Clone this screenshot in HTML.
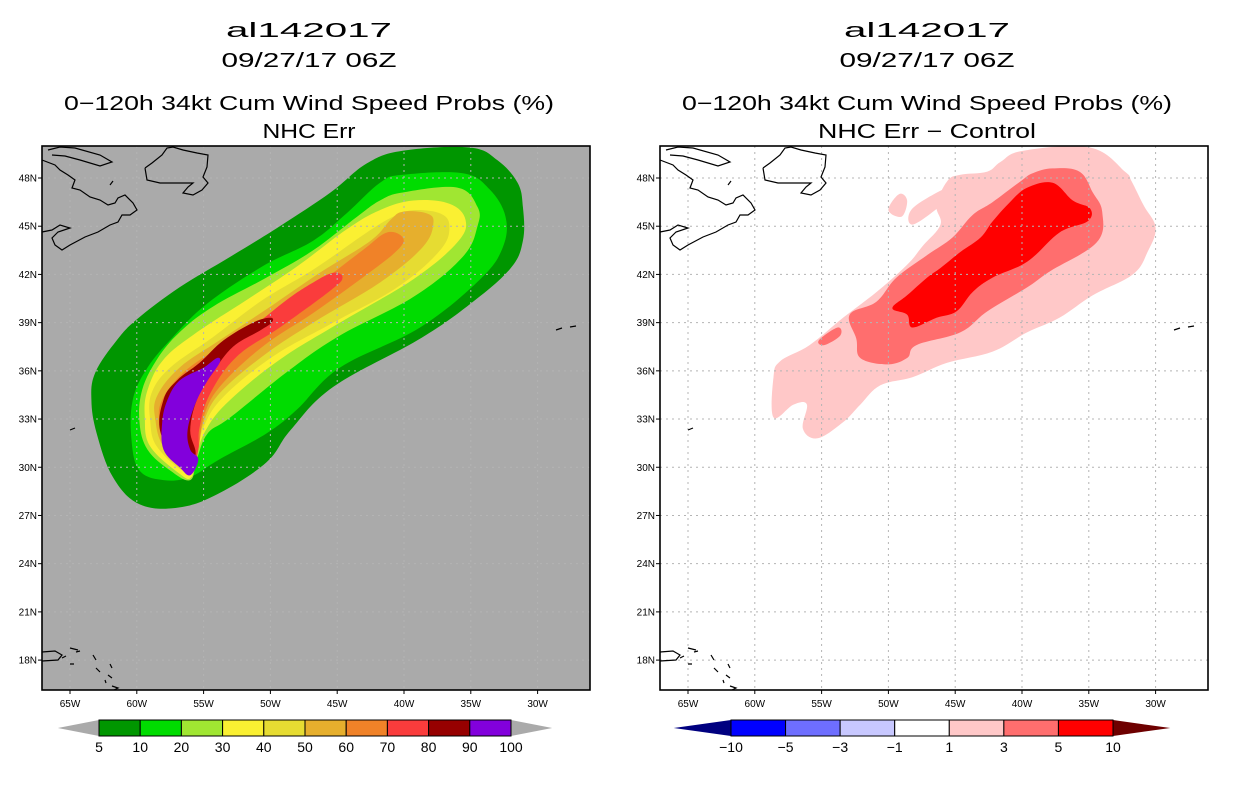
<!DOCTYPE html>
<html><head><meta charset="utf-8"><style>
html,body{margin:0;padding:0;background:#fff;}
svg{display:block;font-family:"Liberation Sans",sans-serif;}
</style></head><body>
<svg id="chart" width="1236" height="800" viewBox="0 0 1236 800" xmlns="http://www.w3.org/2000/svg">
<defs>
<clipPath id="clipL"><rect x="42" y="146" width="548" height="544"/></clipPath>
<clipPath id="clipR"><rect x="660" y="146" width="548" height="544"/></clipPath>
<g id="coast" fill="none" stroke="#000" stroke-width="1.2">
<path d="M48,150 L60,147 L75,148 L100,155 L112,162 L100,166 L80,160 L65,156 L52,155"/>
<path d="M42,160 L55,165 L60,170 L68,175 L75,180 L72,188 L80,190 L90,197 L100,200 L108,205 L115,203 L118,198 L125,195 L133,203 L137,210 L130,215 L122,215 L118,222 L110,225 L98,232 L85,237 L70,245 L62,250 L55,245 L52,238 L58,232 L70,228 L60,225 L52,230 L42,232"/>
<path d="M110,185 L113,181"/>
<path d="M145,168 L152,163 L162,155 L167,148 L173,147 L183,150 L197,153 L208,155 L207,167 L203,177 L208,183 L202,190 L193,195 L183,193 L188,187 L193,183 L177,183 L160,183 L147,180 L145,168"/>
<path d="M70,430 L75,428"/>
<path d="M556,330 L562,328 M570,327 L576,326"/>
<path d="M42,652 L55,651 L62,655 L58,660 L42,661"/>
<path d="M62,658 L66,656 M70,648 L78,650 M76,652 L80,651 M70,664 L74,664 M93,655 L96,660 M96,668 L100,672 M110,664 L112,668 M108,675 L112,678 M105,680 L106,683 M112,686 L118,688 L114,690"/>
</g>
</defs>
<g id="left"></g>
<g id="right"></g>
</svg>
<script>
// ---- axis ticks ----
const latTicks = [48,45,42,39,36,33,30,27,24,21,18];
const lonTicks = [65,60,55,50,45,40,35,30];
// ---- left panel: probability levels & contour regions (lon W, lat N) ----
const probLevels = [5,10,20,30,40,50,60,70,80,90,100];
const probColors = ["#009600","#00dc00","#a0e632","#faf032","#e6dc32","#e6af2d","#f08228","#fa3c3c","#960000","#8200dc"];
const prob5 = [[40.1,49.7],[35.1,49.9],[33.0,49.1],[31.5,47.7],[31.1,46.2],[31.1,44.1],[32.1,42.3],[35.3,40.0],[39.0,37.9],[45.3,35.0],[48.5,32.3],[50.3,30.3],[53.8,28.4],[56.8,27.5],[59.8,27.7],[61.8,29.4],[63.0,32.1],[63.4,34.2],[63.1,35.9],[61.5,37.9],[60.0,39.2],[56.8,41.2],[53.0,43.1],[49.3,45.0],[45.5,47.1],[42.8,48.9]];
const prob10 = [[40.1,48.2],[35.6,48.3],[33.6,47.3],[32.4,45.6],[32.6,43.7],[34.3,41.7],[38.8,38.7],[44.8,36.2],[48.0,33.6],[50.3,32.1],[53.8,30.5],[56.0,29.4],[58.0,29.2],[59.8,29.8],[60.4,31.7],[60.3,34.2],[59.2,36.2],[57.3,38.1],[54.7,40.2],[50.6,42.5],[46.8,44.1],[44.3,45.8],[41.8,47.7]];
const prob20 = [[40.1,47.1],[36.0,47.4],[34.5,46.2],[34.5,45.0],[35.6,43.1],[39.3,40.6],[45.0,38.1],[48.8,35.9],[53.0,33.1],[54.7,32.1],[55.5,30.5],[56.0,29.2],[57.5,29.8],[59.2,31.1],[59.8,32.8],[59.6,34.8],[58.5,36.7],[56.8,38.4],[54.3,40.0],[50.3,41.8],[46.8,43.5],[43.5,45.6],[41.8,46.6]];
const prob30 = [[39.3,46.6],[36.6,46.4],[35.4,45.4],[36.0,44.0],[39.3,41.7],[44.8,39.0],[49.3,36.7],[53.0,34.2],[54.7,32.5],[55.5,30.9],[55.9,29.4],[56.8,29.6],[59.0,31.3],[59.4,33.1],[59.2,34.8],[58.0,36.7],[55.5,38.4],[51.8,40.4],[48.0,42.5],[44.3,44.8],[41.8,46.0]];
const prob40 = [[39.3,46.0],[37.3,45.8],[36.6,45.0],[37.3,43.5],[40.5,41.2],[45.3,39.0],[49.8,36.9],[53.5,34.4],[55.0,32.5],[55.6,30.6],[56.5,29.8],[58.5,31.3],[59.0,32.9],[58.9,34.6],[57.5,36.2],[54.3,38.1],[50.6,40.4],[46.8,42.3],[42.8,44.6],[40.8,45.6]];
const prob50 = [[40.1,45.9],[38.3,45.8],[37.8,45.2],[38.6,43.7],[41.8,41.5],[46.8,39.0],[50.6,36.9],[53.8,34.6],[55.0,32.8],[55.5,30.9],[56.2,30.0],[58.0,31.3],[58.6,32.9],[58.5,34.4],[56.8,36.2],[53.8,37.9],[50.0,40.0],[46.3,42.1],[42.5,44.1],[41.0,45.4]];
const prob60 = [[41.3,44.6],[40.1,44.3],[40.5,43.5],[43.1,41.8],[46.8,39.6],[50.6,37.5],[53.8,35.0],[55.0,33.1],[55.4,31.1],[56.0,30.0],[57.7,31.3],[58.3,32.8],[58.1,34.2],[56.5,35.9],[53.8,37.5],[50.3,39.4],[46.8,41.2],[43.1,43.5]];
const prob70 = [[45.3,42.1],[44.6,41.8],[45.5,41.0],[49.3,38.7],[52.5,36.9],[54.5,34.6],[55.3,32.5],[55.4,31.1],[55.9,30.1],[57.3,31.3],[57.9,32.8],[57.7,34.0],[56.8,35.4],[54.3,36.9],[51.8,38.4],[48.8,40.4],[46.8,41.5]];
const prob80 = [[50.0,39.3],[49.9,39.0],[50.8,38.5],[52.8,37.5],[54.3,35.9],[55.5,34.2],[56.0,32.3],[55.6,30.8],[56.4,29.8],[58.2,32.1],[58.0,34.2],[57.0,35.4],[55.3,36.5],[53.5,37.9],[51.3,39.0]];
const prob90 = [[54.0,36.8],[53.8,36.5],[54.7,35.4],[55.6,34.0],[56.2,32.3],[56.0,31.1],[55.4,30.5],[56.0,29.5],[56.8,30.0],[58.0,31.1],[58.1,32.8],[57.7,34.2],[56.8,35.4],[55.0,36.2]];
const probRegions = [prob5,prob10,prob20,prob30,prob40,prob50,prob60,prob70,prob80,prob90];
// ---- right panel: difference levels & regions ----
const diffLevels = [-10,-5,-3,-1,1,3,5,10];
const diffColors = ["#0000ff","#6e6eff","#c8c8ff","#ffffff","#ffc8c8","#ff6e6e","#ff0000"];
const diff1 = [[39.9,49.7],[34.9,49.9],[32.3,48.4],[31.8,47.8],[30.9,46.3],[30.0,44.9],[30.6,43.4],[31.7,42.0],[34.7,40.7],[37.2,39.3],[39.6,38.4],[42.2,37.2],[45.6,36.5],[48.2,35.6],[50.6,35.1],[52.1,33.9],[53.4,32.8],[55.3,31.8],[56.4,32.4],[56.1,33.9],[57.1,33.9],[58.6,33.1],[58.6,35.6],[58.1,36.6],[55.9,37.6],[53.4,39.3],[50.9,40.9],[48.6,42.6],[47.4,43.8],[46.1,45.1],[46.4,46.3],[45.6,47.8],[44.6,48.2],[42.6,48.4],[41.6,49.0]];
const diff1b = [[50.0,46.0],[49.2,47.0],[48.6,46.6],[49.0,45.6]];
const diff1c = [[48.2,46.1],[45.6,47.4],[45.0,47.2],[46.2,46.2],[48.2,45.1]];
const diff3 = [[37.7,48.6],[35.7,48.4],[34.7,47.1],[34.0,45.9],[34.4,44.0],[37.9,42.2],[39.6,41.2],[42.6,39.7],[44.6,38.4],[47.9,37.6],[48.6,36.8],[50.1,36.4],[52.1,36.8],[52.4,38.0],[52.9,39.5],[50.9,40.3],[49.4,41.8],[47.1,43.2],[45.2,44.3],[43.7,45.7],[42.2,46.5],[40.1,47.8],[39.2,48.3]];
const diff3b = [[55.2,37.9],[53.8,38.7],[53.6,38.2],[54.8,37.6]];
const diff5 = [[39.6,47.4],[37.7,47.7],[36.2,46.6],[34.9,46.1],[35.1,45.3],[37.2,44.6],[39.6,42.8],[42.2,41.8],[43.7,40.9],[44.9,39.7],[46.4,39.3],[48.2,38.7],[48.6,39.5],[49.7,39.9],[48.6,40.7],[47.1,41.8],[46.1,42.4],[44.6,43.4],[43.1,44.3],[42.2,45.3],[40.9,46.5]];
const diffRegions = [[4,diff1],[4,diff1b],[4,diff1c],[5,diff3],[5,diff3b],[6,diff5]];

const NS="http://www.w3.org/2000/svg";
function mk(tag,attrs,parent){const e=document.createElementNS(NS,tag);for(const k in attrs)e.setAttribute(k,attrs[k]);parent.appendChild(e);return e;}
// axis functions
const PX_PER_LON=13.36, PX_PER_LAT=16.07;
function xScale(lonW,x0){return x0+28+(65-lonW)*PX_PER_LON;}
function yScale(lat){return 178+(48-lat)*PX_PER_LAT;}
function smoothPath(reg,x0){
  const p=reg.map(q=>[xScale(q[0],x0),yScale(q[1])]);const n=p.length;
  let d="M"+p[0][0].toFixed(1)+","+p[0][1].toFixed(1);
  for(let i=0;i<n;i++){
    const a=p[(i-1+n)%n],b=p[i],c=p[(i+1)%n],e=p[(i+2)%n],k=0.18;
    const c1=[b[0]+(c[0]-a[0])*k,b[1]+(c[1]-a[1])*k],c2=[c[0]-(e[0]-b[0])*k,c[1]-(e[1]-b[1])*k];
    d+=" C"+c1[0].toFixed(1)+","+c1[1].toFixed(1)+" "+c2[0].toFixed(1)+","+c2[1].toFixed(1)+" "+c[0].toFixed(1)+","+c[1].toFixed(1);
  }
  return d+"Z";
}

function buildPanel(g,x0,bg,clip,titles){
  const W=548,H=544,T=146;
  const tcfg=[[30,20,166,"title-storm-id"],[60,20,175,"title-date"],[103,20,490,"title-product"],[131,20,0,"title-subtitle"]];
  titles.forEach((t,i)=>{
    const c=tcfg[i];
    const el=mk("text",{x:x0+W/2-7,y:c[0]+7,"text-anchor":"middle","font-size":c[1],fill:"#000"},g);
    if(t.w){el.setAttribute("textLength",t.w);el.setAttribute("lengthAdjust","spacingAndGlyphs");}
    
    
    el.textContent=t.s;
  });
  const bgR=mk("rect",{x:x0,y:T,width:W,height:H,fill:bg},g);
  
  
  const fills=mk("g",{"clip-path":"url(#"+clip+")"},g);
  
  
  return fills;
}
function gridAndAxes(g,x0){
  const W=548,H=544,T=146;
  const grid=mk("g",{stroke:"#b4b4b4","stroke-width":1,"stroke-dasharray":"2,4"},g);
  
  
  latTicks.forEach(l=>{const y=yScale(l);mk("line",{x1:x0,x2:x0+W,y1:y,y2:y},grid);});
  lonTicks.forEach(l=>{const x=xScale(l,x0);mk("line",{x1:x,x2:x,y1:T,y2:T+H},grid);});
  const coast=mk("use",{href:"#coast",transform:"translate("+(x0-42)+",0)"},g);
  
  
  const frame=mk("rect",{x:x0,y:T,width:W,height:H,fill:"none",stroke:"#000","stroke-width":1.6},g);
  
  
  const ya=mk("g",{"font-size":10,fill:"#000"},g);
  
  
  latTicks.forEach(l=>{const y=yScale(l);
    mk("line",{x1:x0-4,x2:x0,y1:y,y2:y,stroke:"#000"},ya);
    const t=mk("text",{x:x0-5,y:y+3.5,"text-anchor":"end"},ya);
    
    
    t.textContent=l+"N";});
  const xa=mk("g",{"font-size":10,fill:"#000"},g);
  
  
  lonTicks.forEach(l=>{const x=xScale(l,x0);
    mk("line",{x1:x,x2:x,y1:T+H,y2:T+H+4,stroke:"#000"},xa);
    const t=mk("text",{x:x,y:T+H+17,"text-anchor":"middle"},xa);
    
    
    t.textContent=l+"W";});
}
function colorbar(g,x0,x1,colors,levels,lc,rc,name){
  const cb=mk("g",{},g);
  
  
  const y0=720,y1=736,ym=728,n=colors.length,w=(x1-x0)/n,tip=w*(n===10?1:1.05);
  mk("polygon",{points:(x0-tip)+","+ym+" "+x0+","+y0+" "+x0+","+y1,fill:lc},cb);
  mk("polygon",{points:(x1+tip)+","+ym+" "+x1+","+y0+" "+x1+","+y1,fill:rc},cb);
  colors.forEach((c,i)=>{const r=mk("rect",{x:x0+i*w,y:y0,width:w,height:y1-y0,fill:c,stroke:"#000","stroke-width":1},cb);
    
    });
  levels.forEach((v,i)=>{const t=mk("text",{x:x0+i*w,y:752,"text-anchor":"middle","font-size":14,fill:"#000"},cb);
    
    
    t.textContent=v<0?"\u2212"+(-v):String(v);});
}
// Left panel
const gl=document.getElementById("left");
const fl=buildPanel(gl,42,"#aaaaaa","clipL",[{s:"al142017",w:166},{s:"09/27/17 06Z",w:175},{s:"0\u2212120h 34kt Cum Wind Speed Probs (%)",w:490},{s:"NHC Err",w:93}]);
probRegions.forEach((reg,i)=>{const p=mk("path",{d:smoothPath(reg,42),fill:probColors[i]},fl);
  
  });
gridAndAxes(gl,42);
colorbar(gl,99,511,probColors,probLevels,"#aaaaaa","#aaaaaa","prob-colorbar");
// Right panel
const gr=document.getElementById("right");
const fr=buildPanel(gr,660,"#ffffff","clipR",[{s:"al142017",w:166},{s:"09/27/17 06Z",w:175},{s:"0\u2212120h 34kt Cum Wind Speed Probs (%)",w:490},{s:"NHC Err \u2212 Control",w:218}]);
diffRegions.forEach(r=>{const p=mk("path",{d:smoothPath(r[1],660),fill:diffColors[r[0]]},fr);
  
  });
gridAndAxes(gr,660);
colorbar(gr,731,1113,diffColors,diffLevels,"#000080","#6e0000","diff-colorbar");
</script>
</body></html>
